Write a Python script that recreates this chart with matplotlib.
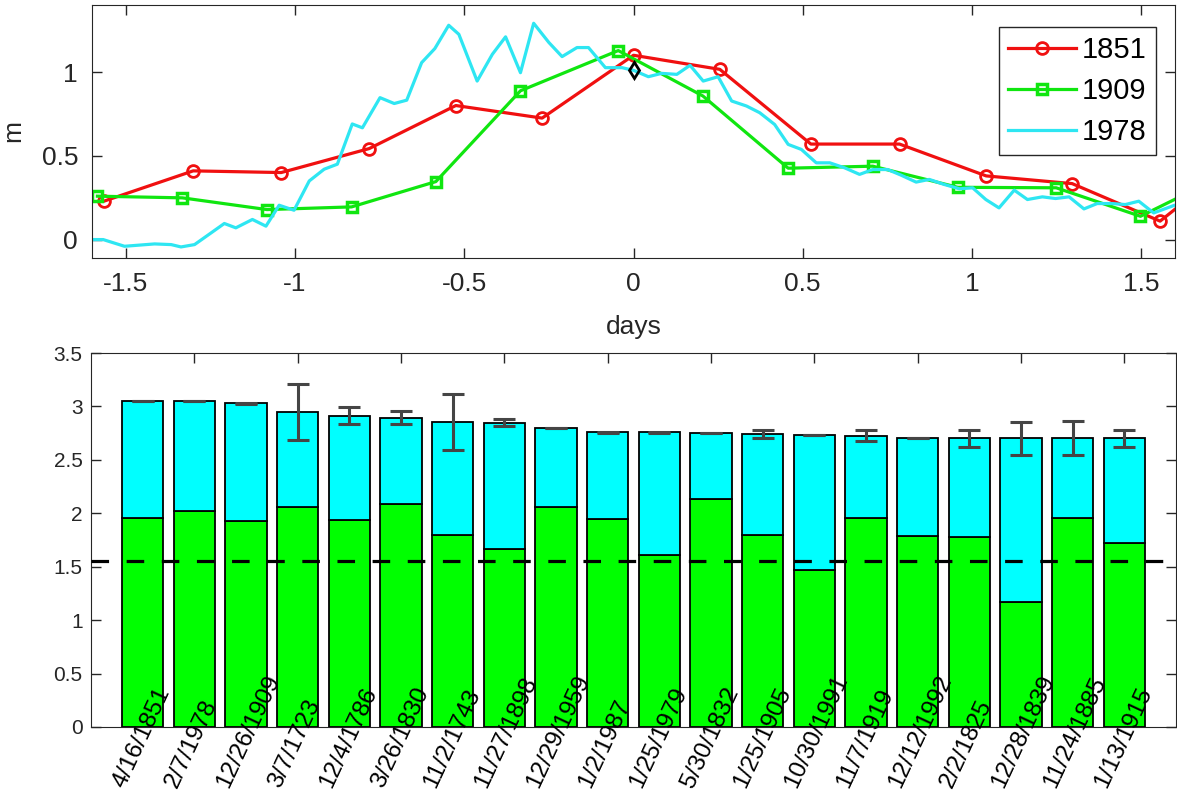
import matplotlib
matplotlib.use('Agg')
import matplotlib.pyplot as plt
from matplotlib.ticker import FormatStrFormatter

plt.rcParams['font.family'] = ['Liberation Sans', 'DejaVu Sans']
plt.rcParams['axes.unicode_minus'] = False

#%%
# top panel: water level around the peak (days, m)
red_x = [-1.565, -1.301, -1.041, -0.781, -0.525, -0.270, 0.0, 0.255, 0.524, 0.786, 1.042, 1.296, 1.556, 1.81]
red_y = [0.229, 0.41, 0.40, 0.543, 0.80, 0.725, 1.10, 1.016, 0.570, 0.570, 0.380, 0.334, 0.11, 0.52]

green_x = [-1.584, -1.333, -1.083, -0.833, -0.584, -0.334, -0.045, 0.205, 0.457, 0.707, 0.958, 1.249, 1.498, 1.75]
green_y = [0.259, 0.249, 0.179, 0.195, 0.346, 0.888, 1.128, 0.857, 0.426, 0.438, 0.312, 0.309, 0.139, 0.39]

cyan_x = [-1.602, -1.567, -1.504, -1.415, -1.366, -1.337, -1.297, -1.248, -1.209, -1.175,
          -1.126, -1.086, -1.047, -1.003, -0.958, -0.914, -0.875, -0.831, -0.801, -0.749,
          -0.707, -0.670, -0.626, -0.587, -0.546, -0.516, -0.462, -0.417, -0.378, -0.334,
          -0.295, -0.250, -0.211, -0.167, -0.133, -0.083, -0.034, 0.000, 0.044, 0.083,
          0.128, 0.167, 0.206, 0.250, 0.290, 0.334, 0.373, 0.417, 0.457, 0.496,
          0.540, 0.580, 0.624, 0.668, 0.707, 0.751, 0.790, 0.835, 0.874, 0.918,
          0.963, 1.002, 1.041, 1.080, 1.125, 1.164, 1.208, 1.247, 1.287, 1.331,
          1.370, 1.414, 1.453, 1.493, 1.537, 1.596]
cyan_y = [0.0, 0.0, -0.04, -0.026, -0.03, -0.044, -0.03, 0.04, 0.096, 0.07,
          0.12, 0.08, 0.205, 0.175, 0.35, 0.42, 0.45, 0.69, 0.667, 0.847,
          0.812, 0.832, 1.056, 1.14, 1.279, 1.225, 0.946, 1.106, 1.21, 0.996,
          1.291, 1.176, 1.092, 1.146, 1.146, 1.026, 1.026, 1.01, 0.972, 0.992,
          0.986, 1.04, 0.946, 0.972, 0.827, 0.797, 0.757, 0.687, 0.568, 0.538,
          0.458, 0.458, 0.428, 0.389, 0.418, 0.418, 0.385, 0.343, 0.359, 0.329,
          0.303, 0.309, 0.239, 0.189, 0.295, 0.239, 0.255, 0.245, 0.255, 0.183,
          0.215, 0.215, 0.209, 0.229, 0.159, 0.203]

peak_x = [0.0]
peak_y = [1.01]

#%%
# bottom panel: event totals
dates = ['4/16/1851', '2/7/1978', '12/26/1909', '3/7/1723', '12/4/1786', '3/26/1830',
         '11/2/1743', '11/27/1898', '12/29/1959', '1/2/1987', '1/25/1979', '5/30/1832',
         '1/25/1905', '10/30/1991', '11/7/1919', '12/12/1992', '2/2/1825', '12/28/1839',
         '11/24/1885', '1/13/1915']
total = [3.05, 3.05, 3.03, 2.946, 2.915, 2.896, 2.853, 2.846, 2.797, 2.759,
         2.759, 2.753, 2.74, 2.734, 2.727, 2.703, 2.703, 2.703, 2.703, 2.703]
lower = [1.956, 2.025, 1.93, 2.056, 1.937, 2.087, 1.80, 1.665, 2.056, 1.947,
         1.61, 2.134, 1.80, 1.471, 1.953, 1.79, 1.775, 1.171, 1.956, 1.72]
err = [0.003, 0.003, 0.003, 0.26, 0.08, 0.062, 0.26, 0.033, 0.003, 0.003,
       0.003, 0.003, 0.04, 0.003, 0.048, 0.003, 0.078, 0.155, 0.157, 0.08]
threshold = 1.55

#%%
txt_c = '#262626'
fig = plt.figure(figsize=(11.77, 7.96), dpi=100)

ax1 = fig.add_axes([92/1177, 1-258/796, 1083/1177, 253/796])
ax1.plot(red_x, red_y, color='#f01010', lw=2.3, marker='o', ms=8.5, mfc='none', mew=2, label='1851')
ax1.plot(green_x, green_y, color='#10e610', lw=2.3, marker='s', ms=7, mfc='none', mew=2.5, label='1909')
ax1.plot(cyan_x, cyan_y, color='#2ee6f2', lw=2.3, label='1978')
ax1.plot(peak_x, peak_y, ls='none', marker='d', ms=8, mfc='none', mec='k', mew=2)
ax1.set_xlim(-1.6, 1.6)
ax1.set_ylim(-0.11, 1.4)
ax1.set_xticks([-1.5, -1, -0.5, 0, 0.5, 1, 1.5])
ax1.set_yticks([0, 0.5, 1])
ax1.xaxis.set_major_formatter(FormatStrFormatter('%g'))
ax1.yaxis.set_major_formatter(FormatStrFormatter('%g'))
ax1.tick_params(direction='in', top=True, right=True, length=7, width=1, colors=txt_c, labelsize=19, pad=10)
ax1.set_xlabel('days', fontsize=19, color=txt_c, labelpad=14)
ax1.set_ylabel('m', fontsize=19, color=txt_c, labelpad=12)
for s in ax1.spines.values():
    s.set_color(txt_c)
leg = ax1.legend(loc='upper right', bbox_to_anchor=(0.982, 0.913), borderaxespad=0, fontsize=21,
                 handlelength=2.35, handletextpad=0.2, labelspacing=0.45, borderpad=0.3,
                 fancybox=False, framealpha=1)
leg.get_frame().set_edgecolor(txt_c)
leg.get_frame().set_linewidth(1)

#%%
ax2 = fig.add_axes([91/1177, 1-727/796, 1085/1177, 374/796])
pos = list(range(1, len(dates) + 1))
upper = [t - g for t, g in zip(total, lower)]
ax2.bar(pos, lower, width=0.8, color='#00ff00', edgecolor='k', lw=1.3, zorder=2)
ax2.bar(pos, upper, width=0.8, bottom=lower, color='#00ffff', edgecolor='k', lw=1.3, zorder=2)
ax2.errorbar(pos, total, yerr=err, fmt='none', ecolor='#454545', elinewidth=2.2, capsize=8, capthick=2.2, zorder=3)
ax2.axhline(threshold, color='k', lw=2.3, dashes=(5.5, 5.5), zorder=4)
ax2.set_xlim(0, 21)
ax2.set_ylim(0, 3.5)
ax2.set_xticks(range(2, 21, 2))
ax2.set_xticklabels([])
ax2.set_yticks([0, 0.5, 1, 1.5, 2, 2.5, 3, 3.5])
ax2.yaxis.set_major_formatter(FormatStrFormatter('%g'))
ax2.tick_params(axis='x', direction='in', bottom=False, top=True, length=7, width=1, colors=txt_c)
ax2.tick_params(axis='y', direction='in', right=True, length=7, width=1, colors=txt_c, labelsize=15, pad=6)
for s in ax2.spines.values():
    s.set_color(txt_c)
for p, d in zip(pos, dates):
    ax2.text(p - 0.45, -0.56, d, rotation=65, rotation_mode='anchor', ha='left', va='center',
             fontsize=17.5, color='k', clip_on=False, zorder=5)

fig.savefig('out.png', dpi=100)
